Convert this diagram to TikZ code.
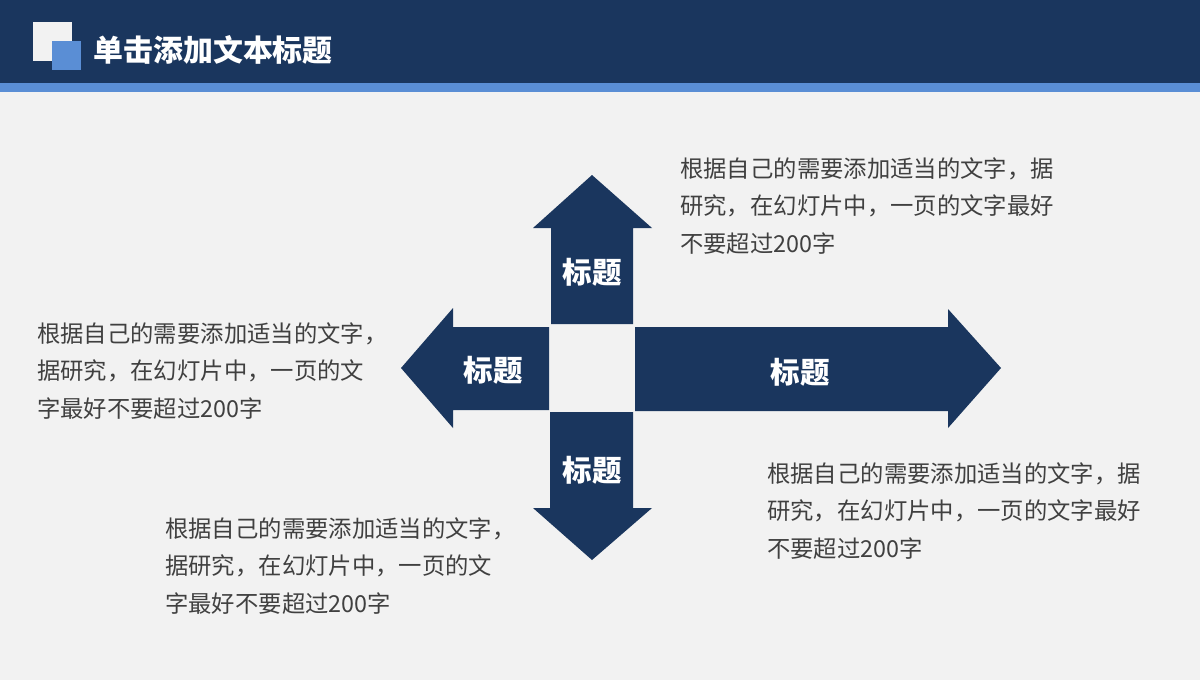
\documentclass[tikz,border=0pt]{standalone}
\usepackage{fontspec}
\setmainfont{Noto Sans CJK SC}
\usepackage{tikz}
\usetikzlibrary{positioning}
\definecolor{navy}{HTML}{1A365E}
\definecolor{barblue}{HTML}{5A8ED5}
\definecolor{paper}{HTML}{F2F2F2}
\definecolor{ink}{HTML}{404040}
\tikzset
{
    arrowbody/.style  = {fill=navy},
    arrowlabel/.style = {text=white, inner sep=0pt, font=\fontsize{21pt}{21pt}\selectfont\bfseries},
    headtitle/.style  = {text=white, inner sep=0pt, anchor=west, font=\fontsize{21.3pt}{21.3pt}\selectfont\bfseries},
    bodytext/.style   = {text=ink, align=left, anchor=north west, inner sep=0pt, font=\fontsize{16.6pt}{26.7pt}\selectfont}
}

\begin{document}
\begin{tikzpicture}[x=0.025cm, y=-0.025cm]
\fill[paper] (0,0) rectangle (1200,680);
\useasboundingbox (0,0) rectangle (1200,680);
% header
\fill[navy] (0,0) rectangle (1200,83);
\fill[barblue] (0,83) rectangle (1200,92);
\fill[paper] (33,22) rectangle (72,61);
\fill[barblue] (52,41) rectangle (81,70);
\node[headtitle] (title) at (93,50) {单击添加文本标题};
% four arrows
\fill[arrowbody] (551,324) -- (551,228) -- (533,228) -- (592,175) -- (652,228) -- (633,228) -- (633,324) -- cycle;
\fill[arrowbody] (549,327) -- (453,327) -- (453,308) -- (401,368) -- (453,428) -- (453,410) -- (549,410) -- cycle;
\fill[arrowbody] (550,412) -- (550,508) -- (533,508) -- (592,560) -- (652,508) -- (633,508) -- (633,412) -- cycle;
\fill[arrowbody] (635,327) -- (948,327) -- (948,309) -- (1001,368) -- (948,428) -- (948,411) -- (635,411) -- cycle;
\node[arrowlabel] (uplabel) at (592,272) {标题};
\node[arrowlabel] (leftlabel) at (493,370) {标题};
\node[arrowlabel] (downlabel) at (592,470) {标题};
\node[arrowlabel] (rightlabel) at (800,372) {标题};
% text blocks
\node[bodytext] (uptext) at (680,157) {根据自己的需要添加适当的文字，据\\研究，在幻灯片中，一页的文字最好\\不要超过200字};
\node[bodytext] (lefttext) at (37,322) {根据自己的需要添加适当的文字，\\据研究，在幻灯片中，一页的文\\字最好不要超过200字};
\node[bodytext] (downtext) at (165,517) {根据自己的需要添加适当的文字，\\据研究，在幻灯片中，一页的文\\字最好不要超过200字};
\node[bodytext] (righttext) at (767,462) {根据自己的需要添加适当的文字，据\\研究，在幻灯片中，一页的文字最好\\不要超过200字};
\end{tikzpicture}
\end{document}
